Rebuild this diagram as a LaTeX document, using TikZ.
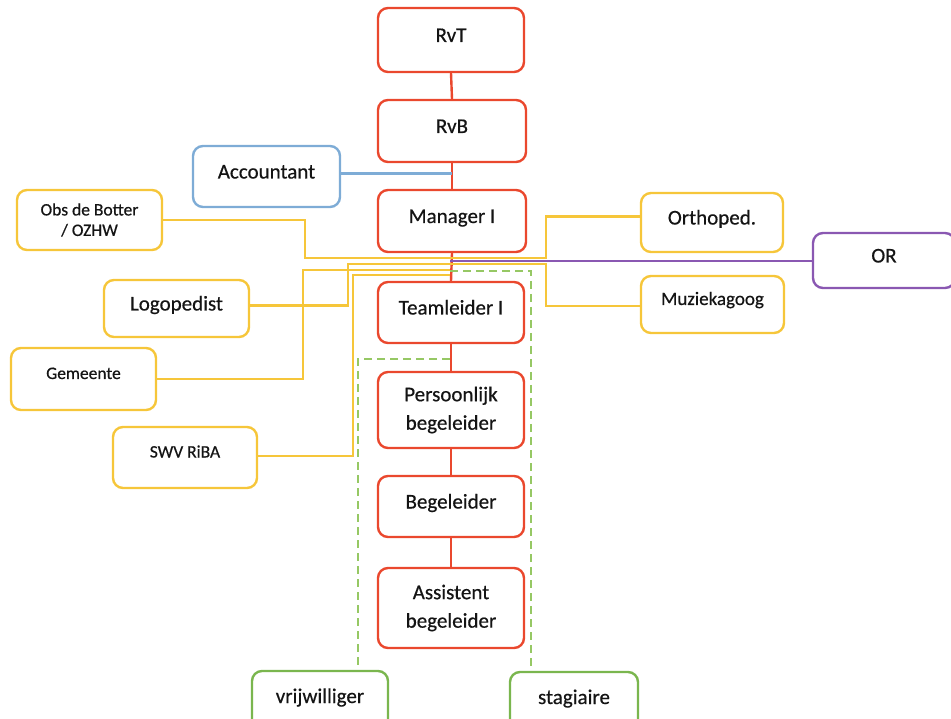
\documentclass[tikz,border=0pt]{standalone}
\usepackage{fontspec}
\setmainfont{Carlito}[FakeBold=0.5]
\usetikzlibrary{positioning, calc}
\definecolor{boxred}{RGB}{234, 72, 46}
\definecolor{linkyellow}{RGB}{246, 198, 58}
\definecolor{accblue}{RGB}{126, 172, 214}
\definecolor{orpurple}{RGB}{138, 88, 178}
\definecolor{volgreen}{RGB}{122, 182, 78}
\definecolor{dashgreen}{RGB}{150, 200, 100}
\definecolor{txtgray}{RGB}{20, 20, 20}

\begin{document}
\begin{tikzpicture}[x=1pt, y=-1pt,
  box/.style={draw, line width=2.4pt, rounded corners=10pt, fill=white, text=txtgray,
    minimum width=146pt, minimum height=61pt, inner sep=2pt, align=center,
    font=\fontsize{21}{28.5}\selectfont},
  oneline/.style={text height=15pt, text depth=11pt},
  small/.style={font=\fontsize{17.5}{20.5}\selectfont},
  smallone/.style={small, text height=12pt, text depth=12pt},
  redbox/.style={box, draw=boxred},
  yelbox/.style={box, draw=linkyellow},
  grnbox/.style={box, draw=volgreen},
  rline/.style={line width=2.4pt, boxred},
  yline/.style={line width=2.4pt, linkyellow},
  dline/.style={line width=2.4pt, dashgreen, dash pattern=on 8pt off 5pt}]
  \useasboundingbox (0,0) rectangle (951,719);

  % Management chain
  \node[redbox, oneline, minimum height=64pt] (rvt) at (451, 40) {RvT};
  \node[redbox, oneline, minimum width=148pt, minimum height=62pt] (rvb) at (452, 131) {RvB};
  \node[redbox, oneline, minimum width=148pt, minimum height=62pt] (mgr) at (452, 221) {Manager I};
  \node[redbox, oneline] (tl) at (451, 312.5) {Teamleider I};
  \node[redbox, minimum height=76pt] (pb) at (451, 410) {Persoonlijk\\begeleider};
  \node[redbox, oneline] (beg) at (451, 506.5) {Begeleider};
  \node[redbox, minimum height=80pt] (ab) at (451, 608) {Assistent\\begeleider};

  \draw[rline] (rvt.south) -- (rvb.north);
  \draw[rline] (rvb.south) -- (mgr.north);
  \draw[rline] (mgr.south) -- (tl.north);
  \draw[rline] (tl.south) -- (pb.north);
  \draw[rline] (pb.south) -- (beg.north);
  \draw[rline] (beg.south) -- (ab.north);

  % Accountant
  \node[box, draw=accblue, oneline, minimum width=147pt] (acc) at (266.5, 176.5) {Accountant};
  \draw[line width=2.4pt, accblue] ([yshift=3pt]acc.east) -- ([yshift=3pt]acc.east -| rvb.south);

  % Junctions on the trunk below Manager I
  \coordinate (jA) at (450, 258);
  \coordinate (jP) at (450, 261);
  \coordinate (jB) at (450, 264);
  \coordinate (jC) at (450, 270);
  \coordinate (jE) at (450, 271);
  \coordinate (jD) at (450, 275);
  \coordinate (jF) at (450, 359);

  % External partners
  \node[yelbox, small, minimum width=145pt, minimum height=60pt] (obs) at (89.5, 220) {Obs de Botter\\/ OZHW};
  \node[yelbox, oneline, minimum width=145pt, minimum height=57pt] (logo) at (176.5, 308.5) {Logopedist};
  \node[yelbox, smallone, minimum width=145pt, minimum height=62pt] (gem) at (83.5, 379) {Gemeente};
  \node[yelbox, smallone, minimum width=144pt] (swv) at (185, 457.5) {SWV RiBA};
  \node[yelbox, oneline, minimum width=142pt, minimum height=59pt] (orth) at (712, 222.5) {Orthoped.};
  \node[yelbox, font=\fontsize{19}{23}\selectfont, text height=13pt, text depth=12pt,
    minimum width=143pt, minimum height=57pt] (muz) at (712.5, 304.5) {Muziekagoog};

  \draw[yline] (obs.east) -| (305, 258) -- (jA);
  \draw[yline] ([yshift=6pt]orth.west) -| (546, 258) -- (jA);
  \draw[yline] ([yshift=3pt]logo.east) -| (348, 264) -- (jB);
  \draw[yline] ([yshift=-1.5pt]muz.west) -| (546, 264) -- (jB);
  \draw[yline] (gem.east) -| (303, 270) -- (jC);
  \draw[yline] ([yshift=1.5pt]swv.east) -| (353, 275) -- (jD);

  % OR
  \node[box, draw=orpurple, oneline, minimum width=142pt, minimum height=55pt] (or) at (884, 260.5) {OR};
  \draw[line width=2.4pt, orpurple] (jP) -- (jP -| or.west);

  % Volunteers and interns
  \node[grnbox, oneline, minimum width=136pt, minimum height=60pt] (vrij) at (320, 701) {vrijwilliger};
  \node[grnbox, oneline, minimum width=128pt, minimum height=60pt] (stag) at (574, 702) {stagiaire};
  \draw[dline] (jE) -| ([xshift=-43pt]stag.north);
  \draw[dline] (jF) -| ([xshift=38pt]vrij.north);
\end{tikzpicture}
\end{document}
